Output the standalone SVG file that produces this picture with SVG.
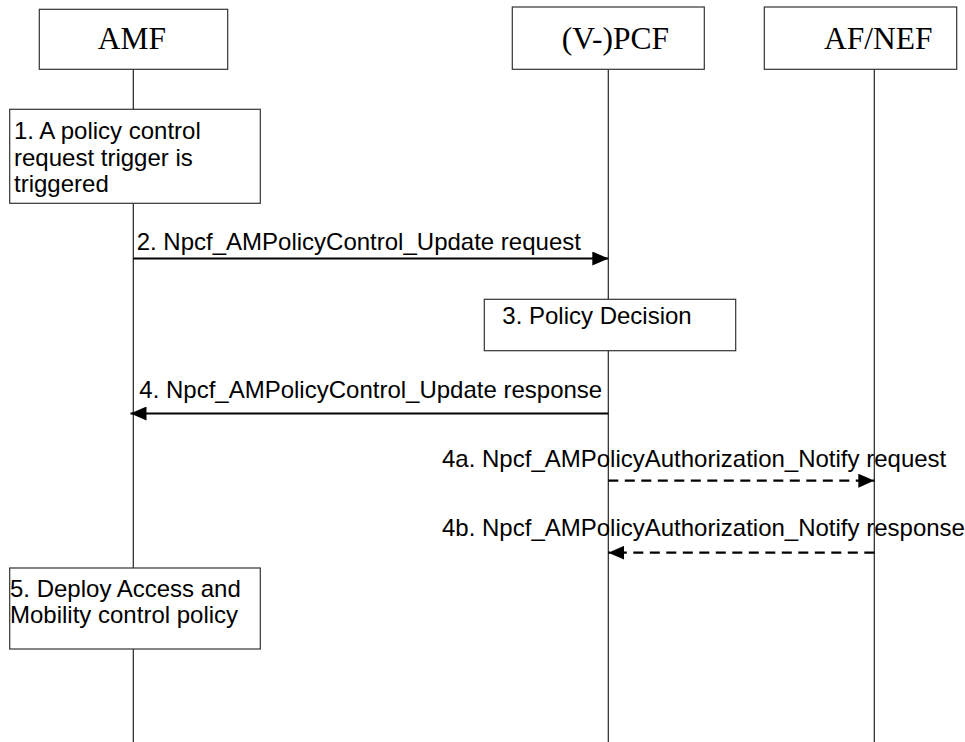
<svg xmlns="http://www.w3.org/2000/svg" width="965" height="742" viewBox="0 0 965 742">
<style>
.ent{fill:#fff;stroke:#333;stroke-width:1.2}
.ent-t{font-family:"Liberation Serif","Times New Roman",serif;font-size:31.5px;fill:#000}
.life{stroke:#222;stroke-width:1.2;fill:none}
.box{fill:#fff;stroke:#333;stroke-width:1.2}
.t{font-family:"Liberation Sans",Arial,sans-serif;font-size:24px;fill:#000}
.msg{stroke:#000;stroke-width:2.2;fill:none}
.dash{stroke-dasharray:10 6.5}
</style>
<defs>
<marker id="ah" markerUnits="userSpaceOnUse" markerWidth="16" markerHeight="14" refX="16" refY="7" orient="auto">
<path d="M0,0 L16,7 L0,14 z" fill="#000" stroke="none"/>
</marker>
</defs>
<g id="lifelines">
<line class="life" x1="133.3" y1="69" x2="133.3" y2="742"/>
<line class="life" x1="608.3" y1="69" x2="608.3" y2="742"/>
<line class="life" x1="874.3" y1="69" x2="874.3" y2="742"/>
</g>
<g id="AMF">
<rect class="ent" x="39.3" y="9.3" width="188.4" height="60"/>
<text class="ent-t" x="132" y="49.3" text-anchor="middle">AMF</text>
</g>
<g id="PCF">
<rect class="ent" x="512.3" y="7" width="192" height="62.3"/>
<text class="ent-t" x="561.7" y="49.3">(V-)PCF</text>
</g>
<g id="AFNEF">
<rect class="ent" x="764.3" y="7" width="192.4" height="62.3"/>
<text class="ent-t" x="824" y="49.3">AF/NEF</text>
</g>
<g id="step1">
<rect class="box" x="9.7" y="109.3" width="250.6" height="94"/>
<text class="t" x="14" y="139">1. A policy control</text>
<text class="t" x="14" y="166">request trigger is</text>
<text class="t" x="14" y="192">triggered</text>
</g>
<g id="step3">
<rect class="box" x="484.3" y="299.3" width="251.4" height="51.4"/>
<text class="t" x="502.3" y="324">3. Policy Decision</text>
</g>
<g id="step5">
<rect class="box" x="9.7" y="568" width="250.6" height="81"/>
<text class="t" x="10" y="597">5. Deploy Access and</text>
<text class="t" x="10" y="623">Mobility control policy</text>
</g>
<g id="connectors">
<line class="msg" x1="133.3" y1="258.5" x2="608.3" y2="258.5" marker-end="url(#ah)"/>
<line class="msg" x1="608.3" y1="413.5" x2="130.5" y2="413.5" marker-end="url(#ah)"/>
<line class="msg dash" x1="608.3" y1="480.7" x2="874.3" y2="480.7" marker-end="url(#ah)"/>
<line class="msg dash" x1="874.3" y1="552.7" x2="608.3" y2="552.7" marker-end="url(#ah)"/>
</g>
<g id="labels">
<text class="t" x="136.7" y="250">2. Npcf_AMPolicyControl_Update request</text>
<text class="t" x="139.3" y="398">4. Npcf_AMPolicyControl_Update response</text>
<text class="t" x="442" y="466.5">4a. Npcf_AMPolicyAuthorization_Notify request</text>
<text class="t" x="442" y="536">4b. Npcf_AMPolicyAuthorization_Notify response</text>
</g>
</svg>
